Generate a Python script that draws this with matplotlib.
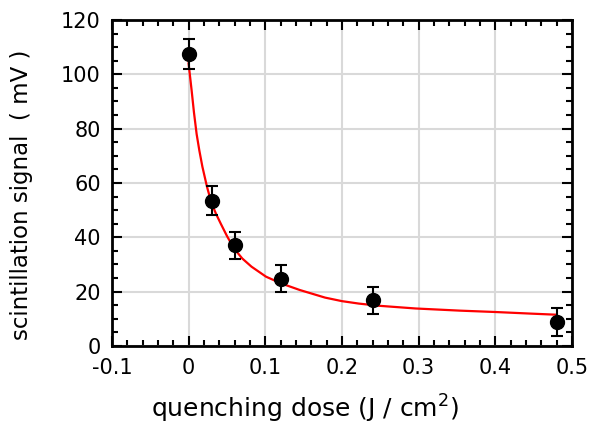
import matplotlib
matplotlib.use("Agg")
import matplotlib.pyplot as plt
from matplotlib.ticker import MultipleLocator

# measured data
dose = [0.0, 0.03, 0.06, 0.12, 0.24, 0.48]
signal = [107.5, 53.5, 37.0, 24.8, 16.8, 8.8]
err = [5.5, 5.2, 5.0, 4.9, 5.0, 5.2]

# fitted curve
fit_x = [0.0, 0.004, 0.007, 0.0105, 0.014, 0.018, 0.024, 0.03, 0.036, 0.042, 0.05, 0.059,
         0.07, 0.082, 0.101, 0.121, 0.145, 0.178, 0.2, 0.222, 0.248, 0.296, 0.354, 0.4, 0.447, 0.48]
fit_y = [104.0, 94.0, 86.0, 78.0, 72.0, 66.0, 58.6, 52.5, 48.5, 45.0, 40.5, 36.0,
         32.2, 29.2, 25.5, 23.0, 20.6, 17.8, 16.5, 15.6, 14.8, 13.8, 13.0, 12.5, 11.9, 11.5]

xtick_vals = [-0.1, 0, 0.1, 0.2, 0.3, 0.4, 0.5]
xtick_labels = ['-0.1', '0', '0.1', '0.2', '0.3', '0.4', '0.5']

plt.rcParams['font.family'] = ['DejaVu Sans']

fig = plt.figure(figsize=(5.89, 4.33), dpi=100)
ax = fig.add_axes([0.190, 0.201, 0.781, 0.753])

ax.plot(fit_x, fit_y, color='red', lw=1.6, zorder=3)
ax.errorbar(dose, signal, yerr=err, fmt='o', color='black', ms=10,
            ecolor='black', elinewidth=1.5, capsize=4, capthick=1.5, zorder=4)

ax.set_xlim(-0.1, 0.5)
ax.set_ylim(0, 120)
ax.xaxis.set_minor_locator(MultipleLocator(0.02))
ax.yaxis.set_major_locator(MultipleLocator(20))
ax.yaxis.set_minor_locator(MultipleLocator(5))
ax.set_xticks(xtick_vals)
ax.set_xticklabels(xtick_labels)

ax.grid(True, which='major', color='#d9d9d9', lw=1.5, zorder=0)
ax.set_axisbelow(True)
for s in ax.spines.values():
    s.set_linewidth(2)
ax.tick_params(which='both', direction='in', top=True, right=True, width=1.5, labelsize=15)
ax.tick_params(which='major', length=7)
ax.tick_params(which='minor', length=4)
ax.tick_params(axis='x', which='major', pad=9)
ax.tick_params(axis='y', which='major', pad=8)

ax.set_xlabel('quenching dose (J / cm$^2$)', fontsize=18)
ax.xaxis.set_label_coords(0.42, -0.145)
ax.set_ylabel('scintillation signal  ( mV )', fontsize=16.5)
ax.yaxis.set_label_coords(-0.172, 0.465)

fig.savefig('out.png', dpi=100)
